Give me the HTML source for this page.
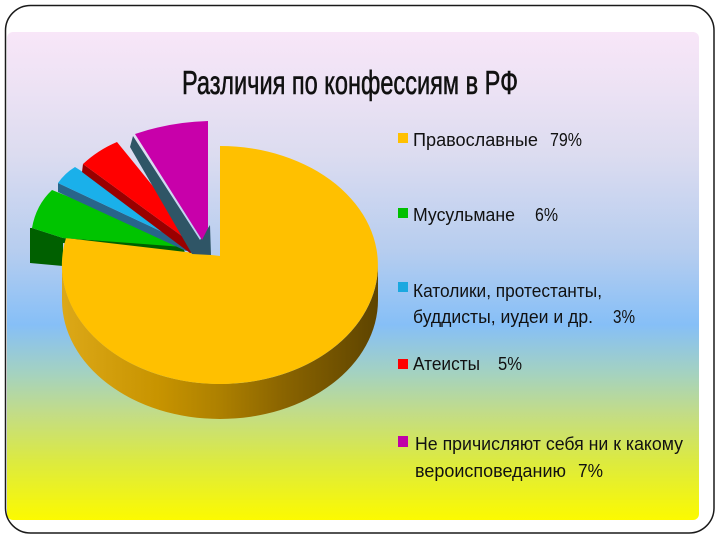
<!DOCTYPE html>
<html>
<head>
<meta charset="utf-8">
<style>
html,body{margin:0;padding:0;background:#fff;}
svg{display:block;}
</style>
</head>
<body>
<svg width="720" height="540" viewBox="0 0 720 540" xmlns="http://www.w3.org/2000/svg">
  <defs>
    <linearGradient id="bg" x1="0" y1="0" x2="0" y2="1">
      <stop offset="0" stop-color="#f8e6f8"/>
      <stop offset="0.12" stop-color="#ece2f4"/>
      <stop offset="0.25" stop-color="#dcdcf0"/>
      <stop offset="0.45" stop-color="#b6cdef"/>
      <stop offset="0.60" stop-color="#86bff7"/>
      <stop offset="0.70" stop-color="#a4d2c0"/>
      <stop offset="0.78" stop-color="#c2dc88"/>
      <stop offset="0.88" stop-color="#dcea40"/>
      <stop offset="1" stop-color="#fcfa00"/>
    </linearGradient>
    <linearGradient id="side" gradientUnits="userSpaceOnUse" x1="62" y1="0" x2="378" y2="0">
      <stop offset="0" stop-color="#dca818"/>
      <stop offset="0.3" stop-color="#c89400"/>
      <stop offset="0.5" stop-color="#ad8000"/>
      <stop offset="0.7" stop-color="#8a6400"/>
      <stop offset="1" stop-color="#5e4400"/>
    </linearGradient>
  </defs>

  <!-- background -->
  <rect x="0" y="0" width="720" height="540" fill="#ffffff"/>
  <rect x="7" y="32" width="692" height="488" rx="6" fill="url(#bg)"/>
  <!-- frame -->
  <rect x="5.5" y="5.5" width="708.5" height="527.5" rx="25" ry="25" fill="none" stroke="#1a1a1a" stroke-width="1.5"/>

  <!-- title -->
  <text x="182" y="94" font-family="Liberation Sans, sans-serif" font-size="33" fill="#111" stroke="#111" stroke-width="0.6" textLength="336" lengthAdjust="spacingAndGlyphs">Различия по конфессиям в РФ</text>

  <!-- green dark side -->
  <polygon points="30,228 30,263 63,266 63,243 185,253 183,246 63,238 32,228" fill="#006000"/>

  <!-- orange side wall -->
  <path d="M62,265 L62,300 A158 119 0 0 0 378,300 L378,265 A158 119 0 0 1 62,265 Z" fill="url(#side)"/>
  <!-- orange top -->
  <path d="M220,256 L220,146 A158 119 0 1 1 66,238 Z" fill="#ffc000"/>

  <!-- green face -->
  <path d="M32,228 Q36,205 52,190 L181,242 L183,247 L63,238 Z" fill="#00c400"/>

  <!-- blue -->
  <polygon points="58,183 58,192 186,251 190,250 190,240 186,243" fill="#28658a"/>
  <path d="M58,183 Q65,173 75,167 L190,240 L186,243 Z" fill="#1ab0ea"/>

  <!-- red -->
  <polygon points="83,164 82,172 190,253 196,252 195,238 190,242" fill="#990000"/>
  <path d="M83,164 Q98,150 117,142 L195,238 L190,242 Z" fill="#ff0000"/>

  <!-- purple -->
  <polygon points="133,136 130,147 192,254 211,255 210,225 200,240" fill="#2f5566"/>
  <path d="M135,134 Q170,122 208,121 L208,228 L202,240 Z" fill="#c800aa"/>

  <!-- legend -->
  <g font-family="Liberation Sans, sans-serif" font-size="18" fill="#111">
    <rect x="398" y="133" width="10" height="10" fill="#ffc000"/>
    <text x="413" y="146" textLength="125" lengthAdjust="spacingAndGlyphs">Православные</text>
    <text x="550" y="146" textLength="32" lengthAdjust="spacingAndGlyphs">79%</text>

    <rect x="398" y="208" width="10" height="10" fill="#00c000"/>
    <text x="413" y="221" textLength="102" lengthAdjust="spacingAndGlyphs">Мусульмане</text>
    <text x="535" y="221" textLength="23" lengthAdjust="spacingAndGlyphs">6%</text>

    <rect x="398" y="282" width="10" height="10" fill="#1aa8e0"/>
    <text x="413" y="297" textLength="189" lengthAdjust="spacingAndGlyphs">Католики, протестанты,</text>
    <text x="413" y="323" textLength="180" lengthAdjust="spacingAndGlyphs">буддисты, иудеи и др.</text>
    <text x="613" y="323" textLength="22" lengthAdjust="spacingAndGlyphs">3%</text>

    <rect x="398" y="359" width="10" height="10" fill="#ff0000"/>
    <text x="413" y="370" textLength="67" lengthAdjust="spacingAndGlyphs">Атеисты</text>
    <text x="498" y="370" textLength="24" lengthAdjust="spacingAndGlyphs">5%</text>

    <rect x="398" y="436" width="10" height="11" fill="#c000a8"/>
    <text x="415" y="450" textLength="268" lengthAdjust="spacingAndGlyphs">Не причисляют себя ни к какому</text>
    <text x="415" y="477" textLength="151" lengthAdjust="spacingAndGlyphs">вероисповеданию</text>
    <text x="578" y="477" textLength="25" lengthAdjust="spacingAndGlyphs">7%</text>
  </g>
</svg>
</body>
</html>
